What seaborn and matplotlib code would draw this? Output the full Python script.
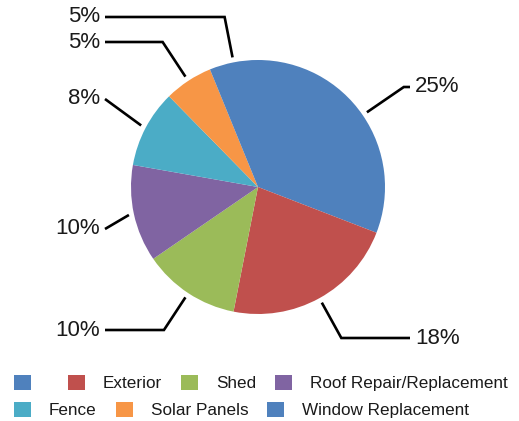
import numpy as np
import matplotlib
matplotlib.use("Agg")
import matplotlib.pyplot as plt
import seaborn as sns

# data
categories = ["", "Exterior", "Shed", "Roof Repair/Replacement",
              "Fence", "Solar Panels", "Window Replacement"]
values = [25, 18, 10, 10, 8, 5, 5]
value_labels = ["25%", "18%", "10%", "10%", "8%", "5%", "5%"]

# Excel 2007 palette
colors = ["#4F81BD", "#C0504D", "#9BBB59", "#8064A2",
          "#4BACC6", "#F79646", "#4F81BD"]

# layout of the data labels (pixel rows of the label text, side of the pie)
label_rows = [87, 338, 330, 229, 99, 42, 17]
label_sides = ["right", "right", "left", "left", "left", "left", "left"]

W, H = 519, 421
CX, CY, R = 258, 187, 127

sns.set_theme(style="white")
plt.rcParams["font.family"] = ["Liberation Sans", "DejaVu Sans"]

fig = plt.figure(figsize=(W / 100, H / 100), dpi=100)
ax = fig.add_axes([0, 0, 1, 1])

# y axis runs downward like image pixels, so counterclock=True draws clockwise
wedges, _ = ax.pie(values, colors=sns.color_palette(colors), center=(CX, CY),
                   radius=R, startangle=-90, counterclock=True,
                   wedgeprops=dict(linewidth=0))
ax.set_xlim(0, W)
ax.set_ylim(H, 0)
ax.set_aspect("equal")
ax.axis("off")

# leader lines + labels
for w, txt, ty, side in zip(wedges, value_labels, label_rows, label_sides):
    mid = np.deg2rad((w.theta1 + w.theta2) / 2)
    dx, dy = np.cos(mid), np.sin(mid)
    ax0, ay0 = CX + 1.04 * R * dx, CY + 1.04 * R * dy
    end_x = 105 if side == "left" else 410
    t = (ty - CY) / dy
    ex = CX + t * dx
    if (side == "left" and ex < end_x) or (side == "right" and ex > end_x):
        xs, ys = [ax0, end_x], [ay0, ty]
    else:
        xs, ys = [ax0, ex, end_x], [ay0, ty, ty]
    ax.plot(xs, ys, color="black", lw=1.9, solid_capstyle="butt",
            solid_joinstyle="miter")
    if side == "left":
        ax.text(100, ty, txt, ha="right", va="center", fontsize=16,
                color="#1a1a1a")
    else:
        ax.text(415, ty, txt, ha="left", va="center", fontsize=16,
                color="#1a1a1a")

# legend, flowing over two rows like the original
leg_kw = dict(frameon=False, fontsize=12.3, handlelength=1.0,
              handleheight=1.0, handletextpad=1.05, columnspacing=1.1,
              borderpad=0, borderaxespad=0, loc="center left",
              labelcolor="#1a1a1a")
fig.legend(wedges[:4], categories[:4], ncol=4,
           bbox_to_anchor=(14 / W, 1 - 383 / H), **leg_kw)
fig.legend(wedges[4:], categories[4:], ncol=3,
           bbox_to_anchor=(14 / W, 1 - 410 / H), **leg_kw)

fig.savefig("out.png", dpi=100)
